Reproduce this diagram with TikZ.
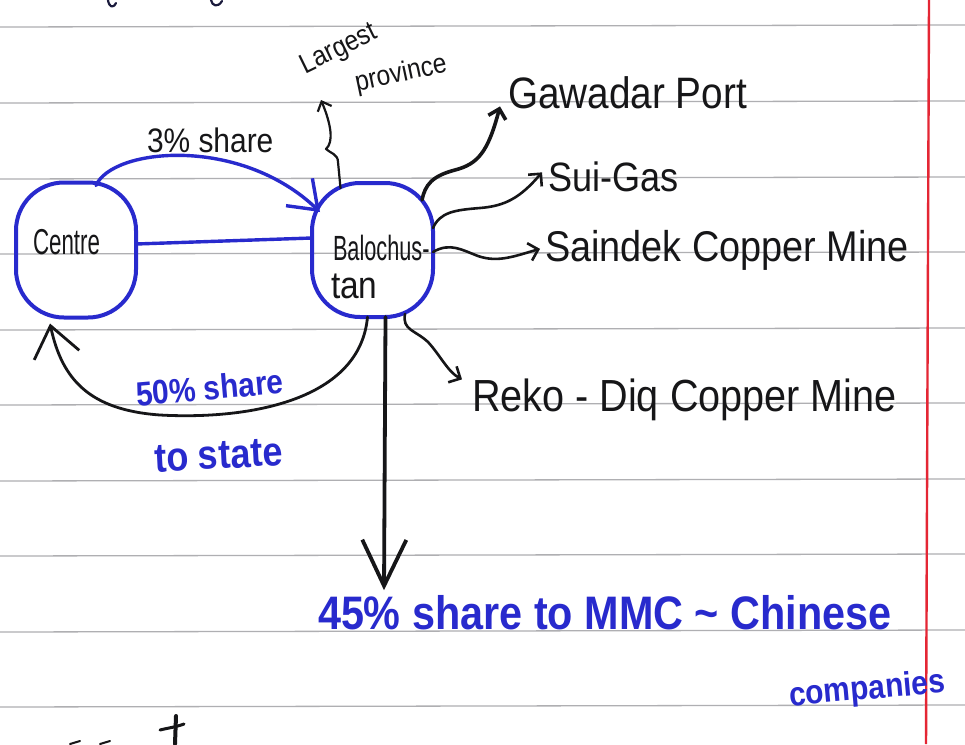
\documentclass[tikz,border=0pt]{standalone}
\usepackage{fontspec}
\setmainfont{Liberation Sans}[FakeStretch=0.88]
\newfontfamily\narrowhand{Liberation Sans}[FakeStretch=0.62]
\usetikzlibrary{arrows.meta,calc}

\definecolor{ink}{RGB}{22,22,24}
\definecolor{pen}{RGB}{40,42,205}
\definecolor{ruling}{RGB}{175,175,178}
\definecolor{margin}{RGB}{228,38,52}

\tikzset{
  blob/.style={draw=pen, line width=4pt, rounded corners=48pt, inner sep=0pt,
               outer sep=0pt, minimum width=120pt, minimum height=135pt},
  hand/.style={inner sep=0pt, outer sep=0pt, anchor=base west, text=ink},
  bluehand/.style={hand, text=pen},
  inkline/.style={draw=ink, line width=2.6pt, line cap=round, line join=round},
  penline/.style={draw=pen, line width=3.4pt, line cap=round, line join=round},
  smallhead/.style={-{Straight Barb[length=9pt, width=18pt]}},
}

\newcommand{\fs}[1]{\fontsize{#1}{#1}\selectfont}

\begin{document}
\begin{tikzpicture}[x=1pt, y=-1pt]
  \useasboundingbox (0,0) rectangle (965,744);
  \fill[white] (0,0) rectangle (965,744);

  % ruled notebook lines and the red margin
  \foreach \yy in {27,103,179,254,330,405,481,556,632,707}
    \draw[ruling, line width=1.3pt] (0,\yy) -- (965,\yy-2);
  \draw[margin, line width=2.4pt] (929,0) -- (926,744);

  % pen strokes of neighbouring lines cut by the page edge
  \draw[inkline, draw=ink!80!pen, line width=2.2pt] (108,0) .. controls (109,7) and (113,9) .. (116,3);
  \draw[inkline, draw=ink!80!pen, line width=2.2pt] (211,0) .. controls (212,6) and (218,8) .. (222,1);
  \draw[inkline, line width=4pt] (176,716) -- (175,744);
  \draw[inkline, line width=3pt] (160,730) .. controls (168,728) and (176,727) .. (184,724);
  \draw[inkline, line width=2pt] (70,744) -- (80,741);
  \draw[inkline, line width=2pt] (100,744) -- (110,741);

  % the two regions
  \node[blob] (centre) at (76,250) {};
  \node[blob, minimum width=121pt, minimum height=134pt] (balo) at (372.5,250) {};

  \node[hand, font=\narrowhand\fs{36}] (centrelbl) at (33,254) {Centre};
  \node[hand, font=\narrowhand\fs{35}] (balolbl1) at (333,260) {Balochus-};
  \node[hand, font=\fs{38}] (balolbl2) at (331,298) {tan};

  % link and flows between centre and province
  \draw[penline] ([shift={(0,-6)}]centre.east) -- ([shift={(0,-12)}]balo.west);
  \draw[penline, -{Straight Barb[length=26pt, width=38pt]}]
    ([shift={(20,3)}]centre.north) .. controls (112,148) and (240,135) .. ([shift={(8,29)}]balo.north west);
  \node[hand, font=\fs{34}] (share3) at (147,152) {3\% share};

  \draw[inkline, line width=2.8pt, -{Straight Barb[length=30pt, width=46pt]}]
    ([shift={(-5,0)}]balo.south) .. controls (360,400) and (250,420) .. (160,415)
    .. controls (90,410) and (62,380) .. ([shift={(-26,6)}]centre.south);
  \node[bluehand, font=\bfseries\fs{34}, rotate=5] (share50) at (137,406) {50\% share};
  \node[bluehand, font=\bfseries\fs{41}, rotate=3] (tostate) at (155,472) {to state};

  % largest province note
  \coordinate (lptip) at (321,100);
  \draw[inkline, line width=2.2pt, -{Straight Barb[length=8pt, width=15pt]}]
    ([shift={(-32,5)}]balo.north) -- (338,162) .. controls (338,154) and (330,153) .. (326,149)
    .. controls (334,142) and (331,124) .. (lptip);
  \node[hand, font=\fs{28}, rotate=26] (largest) at (305,74) {Largest};
  \node[hand, font=\fs{28}, rotate=12] (province) at (357,91) {province};

  % resources of the province
  \node[hand, font=\fs{44}] (gwadar) at (508,108) {Gawadar Port};
  \node[hand, font=\fs{41}] (suigas) at (548,191) {Sui-Gas};
  \node[hand, font=\fs{43}] (saindek) at (545,261) {Saindek Copper Mine};
  \node[hand, font=\fs{45}] (rekodiq) at (472,411) {Reko - Diq Copper Mine};

  \draw[inkline, line width=3.6pt, smallhead]
    ([shift={(-11,17)}]balo.north east) .. controls (425,185) and (432,176) .. (455,170)
    .. controls (478,164) and (488,152) .. ([shift={(-8,-2)}]gwadar.south west);
  \draw[inkline, smallhead]
    ([shift={(0,-22)}]balo.east) .. controls (440,212) and (455,210) .. (480,208)
    .. controls (505,206) and (520,198) .. ([shift={(-6,-4)}]suigas.west);
  \draw[inkline, smallhead]
    ([shift={(0,2)}]balo.east) .. controls (450,242) and (462,250) .. (478,256)
    .. controls (498,263) and (515,256) .. ([shift={(-5,-1)}]saindek.west);
  \draw[inkline, smallhead]
    ([shift={(-28,-3)}]balo.south east) .. controls (402,330) and (415,330) .. (428,342)
    .. controls (440,355) and (448,372) .. ([shift={(-10,-20)}]rekodiq.west);

  % share going to the foreign company
  \node[bluehand, font=\bfseries\fs{47}] (mmc) at (318,629) {45\% share to MMC \textasciitilde{} Chinese};
  \node[bluehand, font=\bfseries\fs{34}, rotate=5] (companies) at (790,706) {companies};
  \draw[inkline, line width=3.8pt, -{Straight Barb[length=46pt, width=44pt]}]
    ([shift={(13,0)}]balo.south) -- ([shift={(66,-22)}]mmc.west);
\end{tikzpicture}
\end{document}
